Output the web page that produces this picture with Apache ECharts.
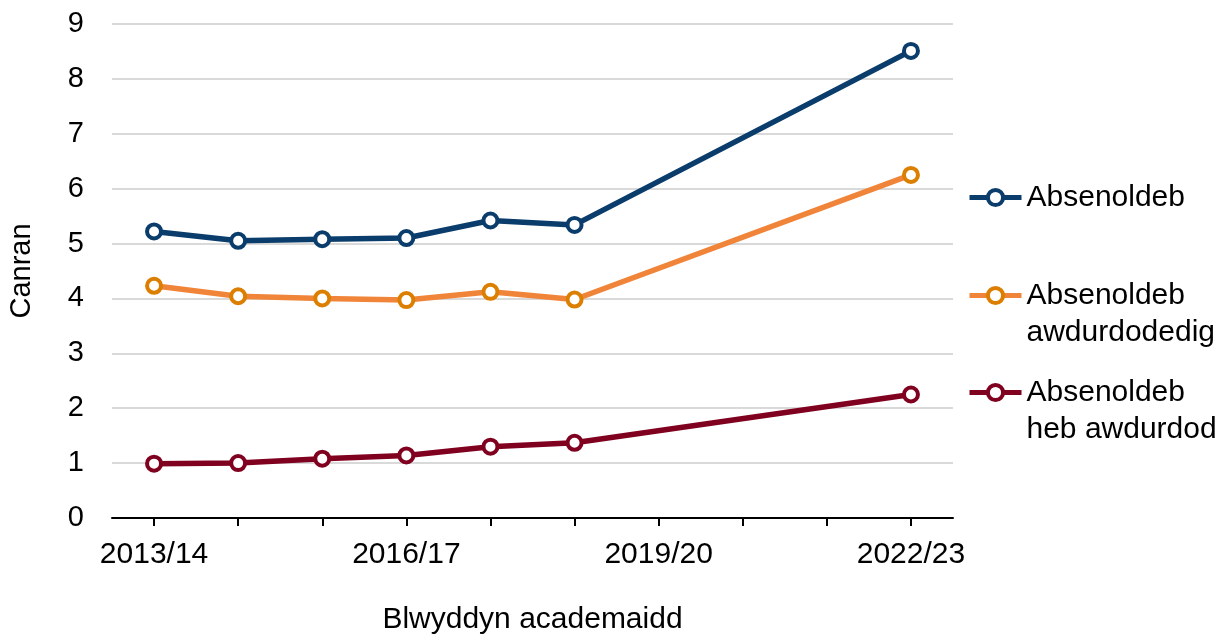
<!DOCTYPE html>
<html>
<head>
<meta charset="utf-8">
<script src="https://cdn.jsdelivr.net/npm/echarts@6/dist/echarts.min.js"></script>
<style>
  html, body { margin: 0; padding: 0; background: #fff; }
  #chart { width: 1229px; height: 636px; }
</style>
</head>
<body>
<div id="chart"></div>
<script>
// categories (academic years)
const years = ['2013/14', '2014/15', '2015/16', '2016/17', '2017/18', '2018/19',
  '2019/20', '2020/21', '2021/22', '2022/23'];
// no data for the covid years, line is joined across the gap
const absenoldeb = [5.22, 5.05, 5.08, 5.10, 5.42, 5.34, null, null, null, 8.51];
const awdurdodedig = [4.23, 4.04, 4.00, 3.97, 4.12, 3.98, null, null, null, 6.25];
const hebAwdurdod = [0.99, 1.00, 1.08, 1.14, 1.30, 1.37, null, null, null, 2.25];
const seriesNames = ['Absenoldeb', 'Absenoldeb awdurdodedig', 'Absenoldeb heb awdurdod'];

const font = 'Liberation Sans, Arial, sans-serif';
const chart = echarts.init(document.getElementById('chart'));

function makeSeries(name, data, lineColor, markColor) {
  return {
    name: name,
    type: 'line',
    data: data,
    connectNulls: true,
    symbol: 'circle',
    symbolSize: 14,
    lineStyle: { color: lineColor, width: 5.5 },
    itemStyle: { color: '#fff', borderColor: markColor, borderWidth: 4 },
    color: lineColor,
    z: 3
  };
}

// one legend per item so each can sit at its own height
function makeLegend(name, top) {
  return {
    data: [name],
    left: 967,
    top: top,
    padding: 0,
    orient: 'vertical',
    itemWidth: 52,
    itemHeight: 19,
    selectedMode: false,
    lineStyle: { width: 5 },
    itemStyle: { borderWidth: 4 },
    textStyle: { fontFamily: font, fontSize: 30, color: '#000', lineHeight: 37 },
    formatter: function (n) {
      const parts = n.split(' ');
      const second = parts.length > 1 ? parts.slice(1).join(' ') : '\u00a0';
      return '\u00a0\n' + parts[0] + '\n' + second;
    }
  };
}

chart.setOption({
  backgroundColor: '#fff',
  animation: false,
  grid: { left: 112, right: 276, top: 24, bottom: 118, outerBoundsMode: 'none', containLabel: false },
  legend: [
    makeLegend(seriesNames[0], 197 - 55),
    makeLegend(seriesNames[1], 295 - 55),
    makeLegend(seriesNames[2], 392 - 55)
  ],
  xAxis: {
    type: 'category',
    data: years,
    boundaryGap: true,
    name: 'Blwyddyn academaidd',
    nameLocation: 'middle',
    nameGap: 87,
    nameTextStyle: { fontFamily: font, fontSize: 30, color: '#000' },
    axisLine: { lineStyle: { color: '#000', width: 2 } },
    axisTick: { show: true, alignWithLabel: true, length: 8, interval: 0, lineStyle: { color: '#000', width: 2 } },
    axisLabel: { interval: 2, margin: 22, fontFamily: font, fontSize: 30, color: '#000' }
  },
  yAxis: {
    type: 'value',
    min: 0,
    max: 9,
    interval: 1,
    name: 'Canran',
    nameLocation: 'middle',
    nameRotate: 90,
    nameGap: 76,
    nameTextStyle: { fontFamily: font, fontSize: 29, color: '#000' },
    axisLine: { show: false },
    axisTick: { show: false },
    axisLabel: { margin: 28, fontFamily: font, fontSize: 29, color: '#000' },
    splitLine: { lineStyle: { color: '#d9d9d9', width: 2 } }
  },
  series: [
    makeSeries(seriesNames[0], absenoldeb, '#0a3d6b', '#0a3d6b'),
    makeSeries(seriesNames[1], awdurdodedig, '#f0853a', '#dc7f00'),
    makeSeries(seriesNames[2], hebAwdurdod, '#80001f', '#80001f')
  ]
});
</script>
</body>
</html>
